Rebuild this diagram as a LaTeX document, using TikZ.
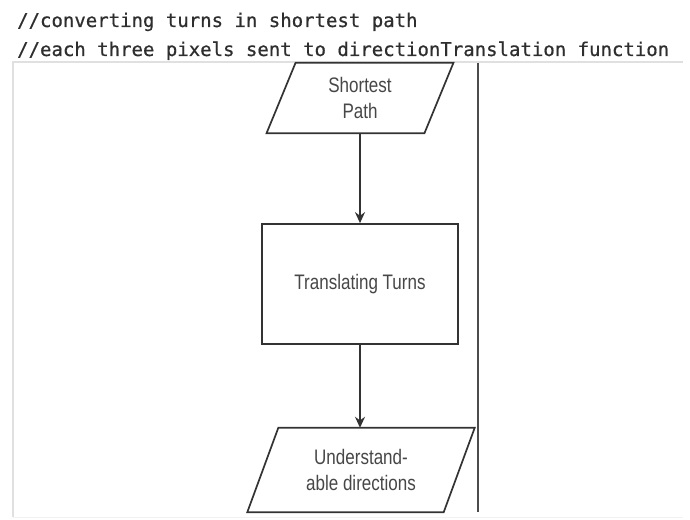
\documentclass[tikz,border=0pt]{standalone}
\usepackage{fontspec}
\setmainfont{Liberation Sans}[FakeStretch=0.81]
\newfontfamily\codefont{DejaVu Sans Mono}[FakeBold=0.6]
\usetikzlibrary{arrows.meta}
\begin{document}
\begin{tikzpicture}[x=1pt,y=-1pt,
  codeline/.style={anchor=base west,inner sep=0pt,font=\codefont\fontsize{19}{22}\selectfont,text=black!82},
  flowtext/.style={font=\fontsize{21}{26}\selectfont,text=black!72,align=center,inner sep=0pt},
  outline/.style={draw=black!80,line width=1.7pt,line join=miter},
  flowarrow/.style={draw=black!80,line width=1.7pt,-{Stealth[length=11pt,width=10pt]}}]
\useasboundingbox[fill=white] (0,0) rectangle (690,519);

% comment lines above the chart
\node[codeline] (c1) at (17,27) {//converting turns in shortest path};
\node[codeline] (c2) at (17,56) {//each three pixels sent to directionTranslation function};

% light frame of the drawing area and the swimlane divider
\draw[black!12,line width=1.4pt] (683,62) -- (13,62) -- (13,517);
\draw[black!5,line width=1pt] (13,517) -- (683,517);
\draw[black!70,line width=1.8pt] (478,63) -- (478,512);

% input: shortest path
\node[flowtext,minimum width=157.5pt,minimum height=70pt] (sp) at (360,98)
  {Shortest\\Path};
\draw[outline] ([xshift=14.5pt]sp.north west) -- ([xshift=14.5pt]sp.north east)
  -- ([xshift=-14.5pt]sp.south east) -- ([xshift=-14.5pt]sp.south west) -- cycle;

% process step
\node[flowtext,outline,minimum width=196pt,minimum height=120pt] (tt) at (360,284)
  {Translating Turns};

% output: directions
\node[flowtext,minimum width=196pt,minimum height=84pt] (ud) at (361,470)
  {Understand-\\able directions};
\draw[outline] ([xshift=15.5pt]ud.north west) -- ([xshift=15.5pt]ud.north east)
  -- ([xshift=-15.5pt]ud.south east) -- ([xshift=-15.5pt]ud.south west) -- cycle;

% flow
\draw[flowarrow] (sp.south) -- (tt.north);
\draw[flowarrow] (tt.south) -- (tt.south |- ud.north);
\end{tikzpicture}
\end{document}
